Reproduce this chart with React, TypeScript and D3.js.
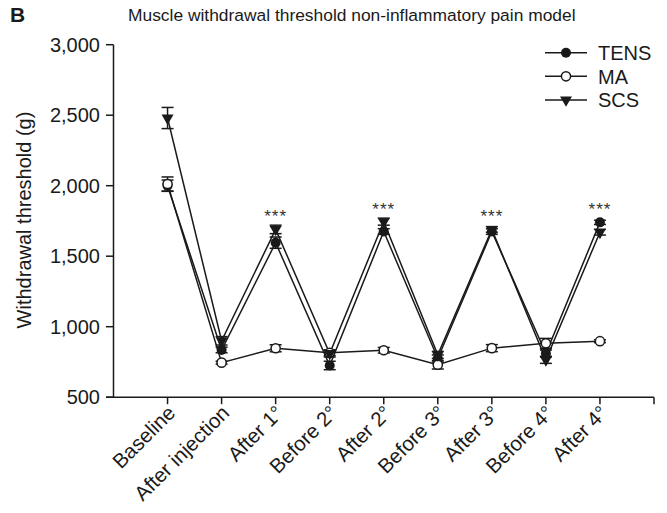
import React from "react";
import * as d3 from "d3";

const categories = ["Baseline", "After injection", "After 1°", "Before 2°", "After 2°", "Before 3°", "After 3°", "Before 4°", "After 4°"];
const tensValues = [2000, 835, 1596, 725, 1675, 775, 1675, 810, 1740];
const tensErr = [40, 20, 40, 30, 20, 25, 20, 25, 15];
const maValues = [2012, 745, 847, 815, 833, 730, 848, 882, 897];
const maErr = [50, 10, 25, 20, 20, 30, 25, 35, 10];
const scsValues = [2480, 900, 1690, 810, 1745, 800, 1690, 765, 1670];
const scsErr = [75, 30, 30, 25, 25, 25, 20, 25, 20];
const sigLabels = ["", "", "***", "", "***", "", "***", "", "***"];
const yTicks = [500, 1000, 1500, 2000, 2500, 3000];
const seriesNames = ["TENS", "MA", "SCS"];

const FONT = "'Liberation Sans', Arial, Helvetica, sans-serif";

export default function App() {
  const x = d3.scaleLinear().domain([-1, 9]).range([113.5, 654]);
  const y = d3.scaleLinear().domain([500, 3000]).range([397.2, 44.7]);
  const fmt = d3.format(",");
  const line = d3
    .line<number>()
    .x((_, i) => x(i))
    .y((v) => y(v));
  const tri = d3.symbol().type(d3.symbolTriangle).size(62)();

  const series = [
    { name: seriesNames[0], values: tensValues, err: tensErr, kind: "filled" },
    { name: seriesNames[1], values: maValues, err: maErr, kind: "open" },
    { name: seriesNames[2], values: scsValues, err: scsErr, kind: "tri" },
  ];

  const marker = (kind: string, cx: number, cy: number, key: string) => {
    if (kind === "filled") return <circle key={key} cx={cx} cy={cy} r={5} fill="#1a1a1a" />;
    if (kind === "open")
      return <circle key={key} cx={cx} cy={cy} r={4.6} fill="#fff" stroke="#1a1a1a" strokeWidth={1.5} />;
    return <path key={key} d={tri as string} transform={`translate(${cx},${cy}) rotate(180)`} fill="#1a1a1a" />;
  };

  const xIdx = d3.range(10);

  return (
    <svg width={667} height={513} style={{ position: "absolute", left: 0, top: 0, background: "#fff" }} fontFamily={FONT}>
      <text x={10} y={22} fontSize={21} fontWeight="bold" fill="#1a1a1a">B</text>
      <text x={128} y={21} fontSize={17.4} fill="#1a1a1a">Muscle withdrawal threshold non-inflammatory pain model</text>

      {/* y axis */}
      <line x1={113.5} x2={113.5} y1={y(3000)} y2={y(500)} stroke="#1a1a1a" strokeWidth={1.5} />
      {yTicks.map((t) => (
        <g key={t}>
          <line x1={106} x2={113.5} y1={y(t)} y2={y(t)} stroke="#1a1a1a" strokeWidth={1.5} />
          <text x={100} y={y(t) + 7} fontSize={20} textAnchor="end" fill="#1a1a1a">{fmt(t)}</text>
        </g>
      ))}
      <text transform={`translate(31,220) rotate(-90)`} fontSize={20} textAnchor="middle" fill="#1a1a1a">
        Withdrawal threshold (g)
      </text>

      {/* x axis */}
      <line x1={106} x2={x(9)} y1={y(500)} y2={y(500)} stroke="#1a1a1a" strokeWidth={1.5} />
      {xIdx.map((i) => (
        <line key={i} x1={x(i)} x2={x(i)} y1={y(500)} y2={y(500) + 7} stroke="#1a1a1a" strokeWidth={1.5} />
      ))}
      {categories.map((c, i) => (
        <text key={c} transform={`translate(${x(i) + 9},${y(500) + 17}) rotate(-45)`} fontSize={20.5} textAnchor="end" fill="#1a1a1a">
          {c}
        </text>
      ))}

      {/* lines */}
      {series.map((s) => (
        <path key={s.name} d={line(s.values) as string} fill="none" stroke="#1a1a1a" strokeWidth={1.5} />
      ))}
      {/* error bars */}
      {series.map((s) =>
        s.values.map((v, i) => (
          <g key={s.name + i} stroke="#1a1a1a" strokeWidth={1.5}>
            <line x1={x(i)} x2={x(i)} y1={y(v + s.err[i])} y2={y(v - s.err[i])} />
            <line x1={x(i) - 6} x2={x(i) + 6} y1={y(v + s.err[i])} y2={y(v + s.err[i])} />
            <line x1={x(i) - 6} x2={x(i) + 6} y1={y(v - s.err[i])} y2={y(v - s.err[i])} />
          </g>
        ))
      )}
      {/* markers */}
      {series.map((s) => s.values.map((v, i) => marker(s.kind, x(i), y(v), s.name + "m" + i)))}

      {/* significance */}
      {sigLabels.map((l, i) =>
        l ? (
          <text key={"sig" + i} x={x(i)} y={y(Math.max(tensValues[i], scsValues[i])) - 7} fontSize={17} letterSpacing={1} textAnchor="middle" fill="#333">
            {l}
          </text>
        ) : null
      )}

      {/* legend */}
      {series.map((s, k) => {
        const ly = 52.7 + k * 23.6;
        return (
          <g key={"leg" + s.name}>
            <line x1={545} x2={587} y1={ly} y2={ly} stroke="#1a1a1a" strokeWidth={1.5} />
            {marker(s.kind, 566, ly, "lm" + k)}
            <text x={598} y={ly + 7.5} fontSize={20} fill="#1a1a1a">{s.name}</text>
          </g>
        );
      })}
    </svg>
  );
}
